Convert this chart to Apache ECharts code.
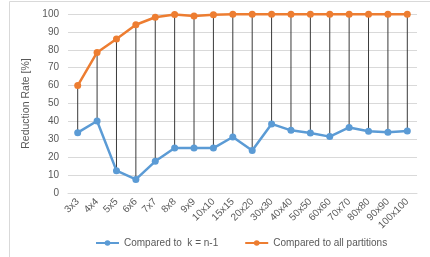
<!DOCTYPE html>
<html>
<head>
<meta charset="utf-8">
<script src="https://cdn.jsdelivr.net/npm/echarts@6/dist/echarts.min.js"></script>
<style>
  html, body { margin: 0; padding: 0; background: #fff; }
  #chart { width: 430px; height: 257px; }
</style>
</head>
<body>
<div id="chart"></div>
<script>
// data
var categories = ['3x3', '4x4', '5x5', '6x6', '7x7', '8x8', '9x9', '10x10', '15x15', '20x20',
    '30x30', '40x40', '50x50', '60x60', '70x70', '80x80', '90x90', '100x100'];
var prevK = [33.7, 40.2, 12.5, 7.6, 17.7, 25.1, 25.1, 25.1, 31.3, 23.7,
    38.6, 35.0, 33.5, 31.5, 36.6, 34.5, 34.0, 34.6];
var allParts = [60.0, 78.5, 86.0, 94.0, 98.2, 99.7, 98.9, 99.6, 99.8, 99.8,
    99.9, 99.9, 99.9, 99.9, 99.9, 99.9, 99.9, 99.9];
var yTicks = { min: 0, max: 100, step: 10 };

var font = 'Liberation Sans';
var gray = '#595959';

// high-low lines between the two series
var stems = categories.map(function (c, i) {
    return [i, prevK[i], allParts[i]];
});

var myChart = echarts.init(document.getElementById('chart'));

var option = {
    animation: false,
    textStyle: { fontFamily: font },
    graphic: [{
        type: 'rect',
        shape: { x: 9.5, y: 1.5, width: 440, height: 270 },
        style: { fill: 'none', stroke: '#d9d9d9', lineWidth: 1 },
        silent: true,
        z: -10
    }],
    grid: { left: 68, right: 13, top: 14, bottom: 64 },
    legend: {
        bottom: 4,
        left: 90,
        itemWidth: 23,
        itemHeight: 7,
        itemGap: 26,
        textStyle: { color: gray, fontSize: 10, fontFamily: font },
        data: ['Compared to  k = n-1', 'Compared to all partitions']
    },
    xAxis: {
        type: 'category',
        data: categories,
        boundaryGap: true,
        axisLine: { lineStyle: { color: '#d9d9d9' } },
        axisTick: { show: false },
        axisLabel: { rotate: 45, color: gray, fontSize: 10, margin: 7, interval: 0 }
    },
    yAxis: {
        type: 'value',
        min: yTicks.min,
        max: yTicks.max,
        interval: yTicks.step,
        name: 'Reduction Rate [%]',
        nameLocation: 'middle',
        nameGap: 27,
        nameTextStyle: { color: gray, fontSize: 10.5, fontFamily: font },
        axisLine: { show: false },
        axisTick: { show: false },
        axisLabel: { color: gray, fontSize: 10, margin: 9 },
        splitLine: { lineStyle: { color: '#d9d9d9' } }
    },
    series: [
        {
            type: 'custom',
            name: 'stems',
            data: stems,
            z: 1,
            silent: true,
            renderItem: function (params, api) {
                var lo = api.coord([api.value(0), api.value(1)]);
                var hi = api.coord([api.value(0), api.value(2)]);
                return {
                    type: 'line',
                    shape: { x1: lo[0], y1: lo[1], x2: hi[0], y2: hi[1] },
                    style: { stroke: '#3a3a3a', lineWidth: 1 }
                };
            }
        },
        {
            name: 'Compared to  k = n-1',
            type: 'line',
            data: prevK,
            z: 3,
            symbol: 'circle',
            symbolSize: 7,
            color: '#5b9bd5',
            lineStyle: { width: 2.5, color: '#5b9bd5' },
            itemStyle: { color: '#5b9bd5' }
        },
        {
            name: 'Compared to all partitions',
            type: 'line',
            data: allParts,
            z: 3,
            symbol: 'circle',
            symbolSize: 7,
            color: '#ed7d31',
            lineStyle: { width: 2.5, color: '#ed7d31' },
            itemStyle: { color: '#ed7d31' }
        }
    ]
};

myChart.setOption(option);
</script>
</body>
</html>
